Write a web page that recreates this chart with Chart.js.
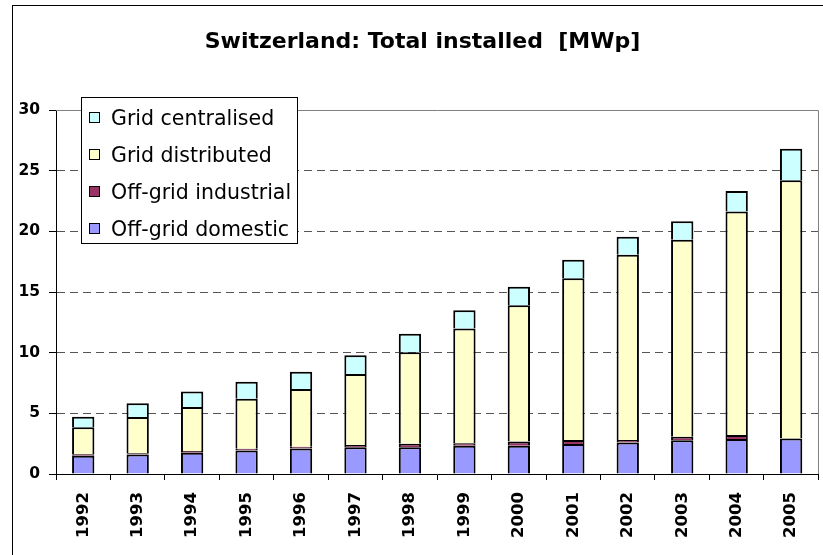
<!DOCTYPE html>
<html>
<head>
<meta charset="utf-8">
<title>Switzerland: Total installed [MWp]</title>
<script src="https://cdn.jsdelivr.net/npm/chart.js@4/dist/chart.umd.min.js"></script>
<style>
    html, body { margin: 0; padding: 0; background: #fff; }
    canvas { display: block; }
</style>
</head>
<body>
<canvas id="pvChart" width="823" height="555"></canvas>
<script>
// Data (MWp)
const years = ['1992', '1993', '1994', '1995', '1996', '1997', '1998',
               '1999', '2000', '2001', '2002', '2003', '2004', '2005'];
const offGridDomestic   = [1.5, 1.6, 1.75, 1.94, 2.1, 2.2, 2.2, 2.33, 2.33, 2.47, 2.6, 2.78, 2.89, 2.92];
const offGridIndustrial = [0.12, 0.1, 0.15, 0.14, 0.15, 0.18, 0.3, 0.2, 0.35, 0.33, 0.2, 0.3, 0.32, 0.03];
const gridDistributed   = [2.24, 3.0, 3.63, 4.12, 4.75, 5.87, 7.53, 9.47, 11.22, 13.33, 15.26, 16.23, 18.43, 21.25];
const gridCentralised   = [0.86, 1.13, 1.27, 1.4, 1.42, 1.53, 1.52, 1.49, 1.53, 1.52, 1.5, 1.53, 1.69, 2.6];
const yTicks = [0, 5, 10, 15, 20, 25, 30];

const FONT = '"DejaVu Sans", "Liberation Sans", Arial, sans-serif';

// Frame around the whole chart + plot area border
const framePlugin = {
    id: 'frame',
    afterLayout(chart) {
        // title sits a bit right of the canvas centre
        if (chart.titleBlock) chart.titleBlock.left += 24;
    },
    beforeDraw(chart) {
        const ctx = chart.ctx;
        ctx.save();
        ctx.fillStyle = '#fff';
        ctx.fillRect(0, 0, chart.width, chart.height);
        ctx.strokeStyle = '#000';
        ctx.lineWidth = 1;
        ctx.strokeRect(12.5, 5.5, 1000, 1000);
        ctx.restore();
    },
    beforeDatasetsDraw(chart) {
        const { ctx, chartArea: a } = chart;
        ctx.save();
        ctx.strokeStyle = '#808080';
        ctx.lineWidth = 1;
        ctx.beginPath();
        ctx.moveTo(a.left, Math.round(a.top) + 0.5);
        ctx.lineTo(Math.round(a.right) + 0.5, Math.round(a.top) + 0.5);
        ctx.lineTo(Math.round(a.right) + 0.5, a.bottom);
        ctx.stroke();
        ctx.restore();
    }
};

// Legend box inside the plot, series listed top of stack first
const boxLegendPlugin = {
    id: 'boxLegend',
    afterDraw(chart) {
        const ctx = chart.ctx;
        const x = 81, y = 97, w = 216, h = 146;
        ctx.save();
        ctx.fillStyle = '#fff';
        ctx.fillRect(x, y, w, h);
        ctx.strokeStyle = '#000';
        ctx.lineWidth = 1;
        ctx.strokeRect(x + 0.5, y + 0.5, w, h);

        const items = chart.data.datasets.slice().reverse();
        ctx.font = '20.5px ' + FONT;
        ctx.textAlign = 'left';
        ctx.textBaseline = 'alphabetic';
        items.forEach((ds, i) => {
            const cy = 117 + i * 37.3;
            ctx.fillStyle = ds.backgroundColor;
            ctx.fillRect(89, Math.round(cy - 5.5), 11, 11);
            ctx.strokeStyle = '#000';
            ctx.strokeRect(89.5, Math.round(cy - 5.5) + 0.5, 10, 10);
            ctx.fillStyle = '#000';
            ctx.fillText(ds.label, 111, cy + 7.5);
        });
        ctx.restore();
    }
};

const barStyle = {
    borderColor: '#000',
    borderWidth: 2,
    barPercentage: 0.41,
    categoryPercentage: 1.0
};

const pvChart = new Chart(
    document.getElementById('pvChart'),
    {
        type: 'bar',
        data: {
            labels: years,
            datasets: [
                { label: 'Off-grid domestic', data: offGridDomestic, backgroundColor: '#9999FF', ...barStyle },
                { label: 'Off-grid industrial', data: offGridIndustrial, backgroundColor: '#993366', ...barStyle },
                { label: 'Grid distributed', data: gridDistributed, backgroundColor: '#FFFFCC', ...barStyle },
                { label: 'Grid centralised', data: gridCentralised, backgroundColor: '#CCFFFF', ...barStyle }
            ]
        },
        options: {
            responsive: false,
            animation: false,
            layout: { padding: { left: 0, right: 2, top: 0, bottom: 0 } },
            plugins: {
                legend: { display: false },
                tooltip: { enabled: false },
                title: {
                    display: true,
                    text: 'Switzerland: Total installed  [MWp]',
                    color: '#000',
                    font: { family: FONT, size: 22, weight: 'bold' },
                    padding: { top: 29, bottom: 54.6 }
                }
            },
            scales: {
                x: {
                    stacked: true,
                    afterFit: s => { s.height = 81; },
                    border: { color: '#000', width: 1 },
                    grid: {
                        drawOnChartArea: false,
                        tickLength: 6,
                        color: '#000'
                    },
                    ticks: {
                        minRotation: 90,
                        maxRotation: 90,
                        padding: 12,
                        color: '#000',
                        font: { family: FONT, size: 16.5, weight: 'bold' }
                    }
                },
                y: {
                    stacked: true,
                    min: yTicks[0],
                    max: yTicks[yTicks.length - 1],
                    afterFit: s => { s.width = 56; },
                    afterBuildTicks: s => { s.ticks = yTicks.map(v => ({ value: v })); },
                    border: { color: '#000', width: 1, dash: [8, 5] },
                    grid: {
                        tickLength: 7,
                        tickColor: '#000',
                        color: c => (c.tick && (c.tick.value === 0 || c.tick.value === 30)) ? 'rgba(0,0,0,0)' : '#555'
                    },
                    ticks: {
                        padding: 9,
                        color: '#000',
                        font: { family: FONT, size: 15.5, weight: 'bold' }
                    }
                }
            }
        },
        plugins: [framePlugin, boxLegendPlugin]
    }
);
</script>
</body>
</html>
